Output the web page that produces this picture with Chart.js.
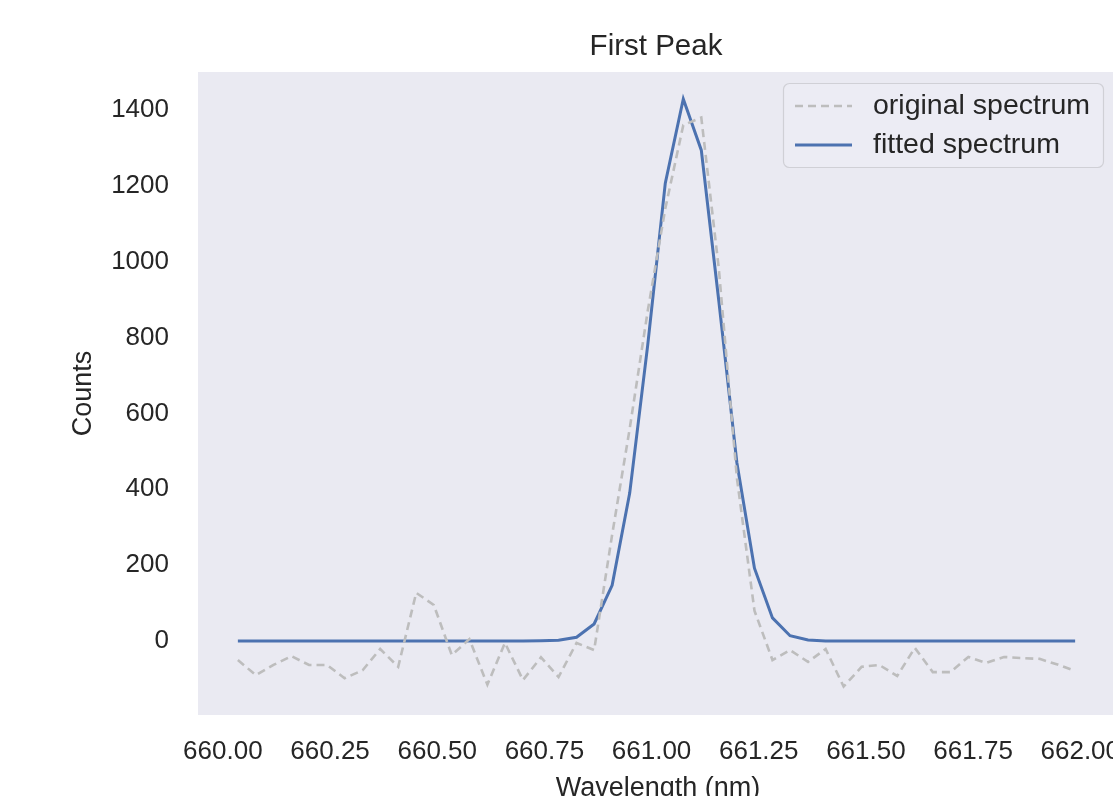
<!DOCTYPE html>
<html><head><meta charset="utf-8">
<script src="https://cdn.jsdelivr.net/npm/chart.js@4.4.0/dist/chart.umd.min.js"></script>
<style>
html,body{margin:0;padding:0;background:#fff;overflow:hidden;width:1113px;height:796px;}
#wrap{position:absolute;left:0;top:0;width:1160px;height:820px;}
</style></head><body>
<div id="wrap"><canvas id="c" width="1160" height="820"></canvas></div>
<script>
const wavelength = [660.035,660.077,660.118,660.160,660.201,660.243,660.284,660.326,660.367,660.409,
  660.451,660.492,660.534,660.575,660.617,660.658,660.700,660.742,660.783,660.825,
  660.866,660.908,660.949,660.991,661.032,661.074,661.116,661.157,661.199,661.240,
  661.282,661.323,661.365,661.406,661.448,661.490,661.531,661.573,661.614,661.656,
  661.697,661.739,661.780,661.822,661.864,661.905,661.947,661.988];
const originalCounts = [-50,-90,-63,-40,-63,-63,-98,-77,-21,-68,
  127,95,-37,5,-115,-5,-103,-43,-95,-5,
  -24,280,560,870,1140,1360,1380,980,430,80,
  -50,-24,-55,-21,-120,-68,-63,-92,-18,-82,
  -82,-42,-58,-42,-45,-47,-62,-79];
const fittedCounts = [0,0,0,0,0,0,0,0,0,0,
  0,0,0,0,0,0,0,1,2,10,
  45,147,390,780,1207,1429,1294,895,470,192,
  61,14,3,0,0,0,0,0,0,0,
  0,0,0,0,0,0,0,0];
const xTickValues = [660.00,660.25,660.50,660.75,661.00,661.25,661.50,661.75,662.00];
const yTickValues = [0,200,400,600,800,1000,1200,1400];
const seriesLabels = ['original spectrum','fitted spectrum'];
const chartTitle = 'First Peak';
const xLabel = 'Wavelength (nm)';
const yLabel = 'Counts';

const FONT = '"Liberation Sans", Arial, Helvetica, sans-serif';
const TXT = '#262626';

const decor = {
  id: 'decor',
  beforeDraw(chart) {
    const {ctx, chartArea: a} = chart;
    ctx.save();
    ctx.fillStyle = '#eaeaf2';
    ctx.fillRect(a.left, a.top, a.right - a.left, a.bottom - a.top);
    ctx.restore();
  },
  afterDatasetsDraw(chart) {
    const {ctx, chartArea: a} = chart;
    ctx.save();
    ctx.fillStyle = TXT;
    ctx.font = '29.5px ' + FONT;
    ctx.textAlign = 'center';
    ctx.textBaseline = 'middle';
    ctx.fillText(chartTitle, (a.left + a.right) / 2 - 2, a.top - 25);
    // legend
    const bx = a.right - 335, by = a.top + 11, bw = 320, bh = 84;
    ctx.beginPath();
    ctx.roundRect(bx + 0.5, by + 0.5, bw, bh, 6);
    ctx.fillStyle = 'rgba(236,236,244,0.8)';
    ctx.fill();
    ctx.strokeStyle = '#d0d0d6';
    ctx.lineWidth = 1.2;
    ctx.stroke();
    chart.data.datasets.forEach((ds, i) => {
      const y = by + 23 + i * 39;
      ctx.beginPath();
      ctx.setLineDash(ds.borderDash || []);
      ctx.strokeStyle = ds.borderColor;
      ctx.lineWidth = ds.borderWidth;
      ctx.moveTo(bx + 12, y);
      ctx.lineTo(bx + 69, y);
      ctx.stroke();
      ctx.setLineDash([]);
      ctx.fillStyle = TXT;
      ctx.font = '28.5px ' + FONT;
      ctx.textAlign = 'left';
      ctx.textBaseline = 'middle';
      ctx.fillText(ds.label, bx + 90, y);
    });
    ctx.restore();
  }
};

new Chart(document.getElementById('c'), {
  type: 'line',
  data: {
    datasets: [
      {
        label: seriesLabels[0],
        data: wavelength.map((x, i) => ({x, y: originalCounts[i]})),
        borderColor: '#bdbdbd',
        borderWidth: 2.6,
        borderDash: [8, 5],
        pointRadius: 0,
        tension: 0,
        fill: false
      },
      {
        label: seriesLabels[1],
        data: wavelength.map((x, i) => ({x, y: fittedCounts[i]})),
        borderColor: '#4c72b0',
        borderWidth: 3,
        pointRadius: 0,
        tension: 0,
        fill: false
      }
    ]
  },
  options: {
    responsive: false,
    animation: false,
    devicePixelRatio: 1,
    layout: {padding: {top: 72, right: 42, left: 0, bottom: 0}},
    plugins: {legend: {display: false}, title: {display: false}, tooltip: {enabled: false}},
    scales: {
      x: {
        type: 'linear',
        min: 659.942,
        max: 662.088,
        afterBuildTicks: s => { s.ticks = xTickValues.map(v => ({value: v})); },
        afterFit: s => { s.height = 105; },
        grid: {display: false},
        border: {display: false},
        ticks: {
          autoSkip: false, maxRotation: 0, padding: 13,
          color: TXT, font: {family: FONT, size: 26},
          callback: v => Number(v).toFixed(2)
        },
        title: {display: true, text: xLabel, color: TXT, font: {family: FONT, size: 27}, padding: {top: 0, bottom: 15}}
      },
      y: {
        type: 'linear',
        min: -195,
        max: 1500,
        afterBuildTicks: s => { s.ticks = yTickValues.map(v => ({value: v})); },
        afterFit: s => { s.width = 198; },
        grid: {display: false},
        border: {display: false},
        ticks: {
          autoSkip: false, padding: 21,
          color: TXT, font: {family: FONT, size: 26},
          callback: v => String(v)
        },
        title: {display: true, text: yLabel, color: TXT, font: {family: FONT, size: 27}, padding: {top: 67, bottom: 0}}
      }
    }
  },
  plugins: [decor]
});
</script>
</body></html>
